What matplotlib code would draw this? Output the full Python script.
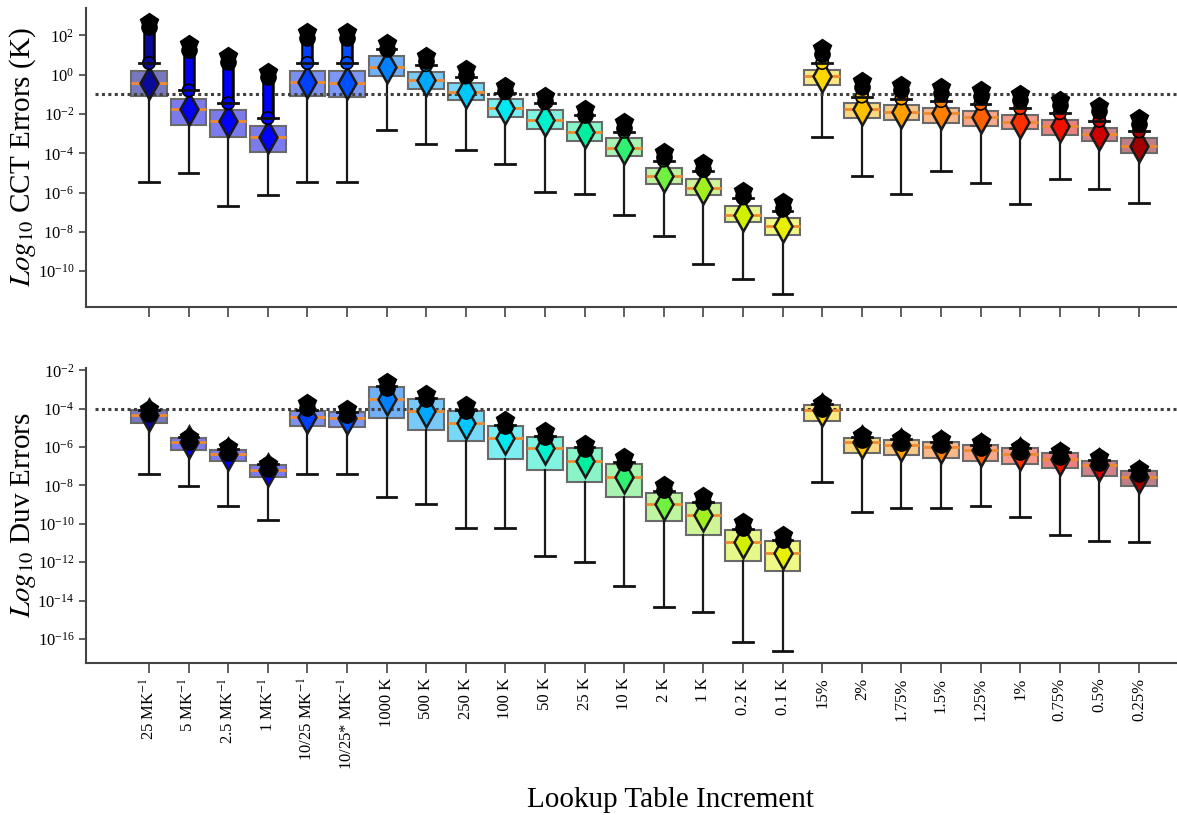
import numpy as np
import matplotlib
matplotlib.use('Agg')
import matplotlib.pyplot as plt
import matplotlib.transforms as mtransforms
from matplotlib.ticker import FixedLocator, NullLocator, LogFormatterMathtext

plt.rcParams['font.family'] = ['Liberation Serif', 'DejaVu Serif']
plt.rcParams['mathtext.fontset'] = 'stix'

labels = [r'25 MK$^{-1}$', r'5 MK$^{-1}$', r'2.5 MK$^{-1}$', r'1 MK$^{-1}$',
          r'10/25 MK$^{-1}$', r'10/25* MK$^{-1}$', '1000 K', '500 K', '250 K',
          '100 K', '50 K', '25 K', '10 K', '2 K', '1 K', '0.2 K', '0.1 K',
          '15%', '2%', '1.75%', '1.5%', '1.25%', '1%', '0.75%', '0.5%', '0.25%']

# CCT errors (log10 K)
cct_q1 = [-1.07, -2.55, -3.15, -3.91, -1.07, -1.14, -0.05, -0.73, -1.31, -2.13, -2.76, -3.37, -4.14,
          -5.58, -6.14, -7.52, -8.14, -0.53, -2.21, -2.30, -2.47, -2.60, -2.77, -3.06, -3.39, -4.00]
cct_med = [-0.44, -1.74, -2.37, -3.15, -0.36, -0.44, 0.41, -0.29, -0.90, -1.67, -2.28, -2.91, -3.73,
           -5.14, -5.75, -7.15, -7.69, -0.05, -1.74, -1.91, -1.97, -2.13, -2.40, -2.60, -3.00, -3.61]
cct_q3 = [0.17, -1.21, -1.82, -2.60, 0.17, 0.17, 0.94, 0.12, -0.43, -1.21, -1.82, -2.43, -3.20,
          -4.77, -5.31, -6.69, -7.32, 0.26, -1.45, -1.55, -1.69, -1.84, -2.06, -2.30, -2.69, -3.23]
cct_lo = [-5.46, -4.99, -6.69, -6.14, -5.46, -5.46, -2.83, -3.52, -3.83, -4.53, -5.99, -6.06, -7.15,
          -8.22, -9.62, -10.38, -11.15, -3.15, -5.14, -6.06, -4.92, -5.53, -6.60, -5.31, -5.84, -6.52]
cct_hi = [0.60, -0.80, -1.45, -2.21, 0.60, 0.60, 1.31, 0.49, -0.14, -0.94, -1.45, -2.06, -2.91,
          -4.37, -4.90, -6.30, -6.93, 0.60, -1.11, -1.21, -1.34, -1.48, -1.70, -1.96, -2.35, -2.89]
cct_max = [2.70, 1.55, 0.93, 0.16, 2.16, 2.16, 1.62, 0.97, 0.29, -0.56, -1.07, -1.75, -2.43,
           -3.92, -4.51, -5.91, -6.50, 1.36, -0.34, -0.51, -0.63, -0.80, -0.99, -1.28, -1.58, -2.21]

# Duv errors (log10)
duv_q1 = [-4.75, -6.17, -6.71, -7.57, -4.90, -4.97, -4.50, -5.13, -5.70, -6.63, -7.18, -7.81, -8.59,
          -9.86, -10.57, -11.91, -12.45, -4.64, -6.31, -6.40, -6.56, -6.70, -6.87, -7.10, -7.50, -8.05]
duv_med = [-4.35, -5.76, -6.38, -7.18, -4.43, -4.50, -3.50, -4.10, -4.75, -5.53, -6.07, -6.71, -7.57,
           -8.99, -9.55, -10.96, -11.50, -4.09, -5.76, -5.90, -6.00, -6.16, -6.37, -6.61, -6.94, -7.57]
duv_q3 = [-4.09, -5.51, -6.14, -6.92, -4.10, -4.19, -2.87, -3.50, -4.10, -4.90, -5.46, -6.07, -6.87,
          -8.37, -8.92, -10.33, -10.89, -3.81, -5.55, -5.62, -5.76, -5.91, -6.07, -6.31, -6.70, -7.27]
duv_lo = [-7.41, -8.03, -9.06, -9.79, -7.41, -7.41, -8.59, -8.99, -10.24, -10.24, -11.67, -11.97, -13.25,
          -14.33, -14.59, -16.16, -16.63, -7.81, -9.39, -9.15, -9.15, -9.06, -9.62, -10.56, -10.87, -10.94]
duv_hi = [-4.05, -5.49, -6.12, -6.90, -4.05, -4.15, -2.82, -3.45, -4.05, -4.85, -5.40, -6.02, -6.80,
          -8.30, -8.85, -10.25, -10.82, -3.78, -5.50, -5.58, -5.72, -5.87, -6.03, -6.27, -6.65, -7.22]
duv_max = [-4.00, -5.45, -6.00, -6.87, -3.70, -4.03, -2.61, -3.22, -3.83, -4.61, -5.18, -5.83, -6.52,
           -7.97, -8.56, -9.91, -10.56, -3.72, -5.36, -5.51, -5.60, -5.74, -5.97, -6.23, -6.52, -7.13]

cct_threshold = 0.1
duv_threshold = 1e-4

marker_colors = ['#0a0a9a', '#0000ee', '#0000ff', '#0000ff', '#0040ff', '#0050ff', '#0080ff',
                 '#00a8ff', '#00c8ff', '#00e8f0', '#00f0d0', '#00f0a0', '#30f070', '#70f040',
                 '#a0f020', '#d0f000', '#e8f000', '#ffd700', '#ffc000', '#ffa000', '#ff8000',
                 '#ff6000', '#ff3000', '#f01000', '#d00000', '#a00000']
face_colors = ['#7878c0', '#7b7bee', '#7b7bee', '#7b7bee', '#7c90f2', '#7c98f4', '#70b0f8',
               '#78c8f8', '#78d8f8', '#7aeef2', '#80f4e0', '#8af4c8', '#a8f4b0', '#bff5a0',
               '#d0f598', '#e6f88a', '#f2f888', '#fcea80', '#fad880', '#f8c888', '#f8b888',
               '#f8a888', '#f89888', '#ec8080', '#d48088', '#be8088']

pos = np.arange(len(labels))

fig = plt.figure(figsize=(11.77, 8.15), dpi=100)
L = 86 / 1177
ax1 = fig.add_axes([L, 1 - 307 / 815, 1 - L, (307 - 8) / 815])
ax2 = fig.add_axes([L, 1 - 663 / 815, 1 - L, (663 - 368) / 815])


def draw(ax, q1, med, q3, lo, hi, mx, thr, ylim, yticks, ylabel):
    stats = []
    for a, m, b, l, h in zip(q1, med, q3, lo, hi):
        stats.append(dict(med=10 ** m, q1=10 ** a, q3=10 ** b, whislo=10 ** l,
                          whishi=10 ** h, fliers=[]))
    bp = ax.bxp(stats, positions=pos, widths=0.9, capwidths=0.5, patch_artist=True,
                showfliers=False,
                boxprops=dict(edgecolor='#6a6a6a', linewidth=1.5),
                medianprops=dict(color='#f08a30', linewidth=2, zorder=3.8),
                whiskerprops=dict(color='#1a1a1a', linewidth=1.6),
                capprops=dict(color='#111111', linewidth=2, zorder=5))
    for patch, fc in zip(bp['boxes'], face_colors):
        patch.set_facecolor(fc)
        patch.set_zorder(2)
    ax.set_yscale('log')
    ax.axhline(thr, xmin=0.008, color='#404040', linestyle=(0, (1, 1.1)), linewidth=2.2,
               zorder=3.2)
    hi_v = 10 ** np.array(hi)
    mx_v = 10 ** np.array(mx)
    # outlier column
    c1 = ax.vlines(pos, hi_v, mx_v, colors='black', linewidth=9, zorder=4)
    c1.set_capstyle('butt')
    c2 = ax.vlines(pos, hi_v, mx_v, colors=marker_colors, linewidth=5.5, zorder=4.1)
    c2.set_capstyle('butt')
    ax.scatter(pos, hi_v, s=80, c=marker_colors, edgecolors='black', linewidths=1.2,
               zorder=4.5)
    # mean diamonds
    for x, m, c in zip(pos, med, marker_colors):
        ax.plot([x], [10 ** m], marker='d', linestyle='none', markersize=16, markerfacecolor=c,
                markeredgecolor='#1a1a1a', markeredgewidth=1.8, zorder=4.3)
    down = mtransforms.offset_copy(ax.transData, fig=fig, x=0, y=-4, units='points')
    ax.plot(pos, mx_v, 'o', ms=11, color='black', transform=down, zorder=6, linestyle='none')
    ax.plot(pos, mx_v, 'p', ms=13, color='black', zorder=6.1, linestyle='none')

    ax.set_xlim(-1.59, 25.96)
    ax.set_ylim(*ylim)
    ax.yaxis.set_major_locator(FixedLocator(yticks))
    ax.yaxis.set_minor_locator(NullLocator())
    ax.yaxis.set_major_formatter(LogFormatterMathtext())
    ax.set_xticks(pos)
    for s in ['top', 'right']:
        ax.spines[s].set_visible(False)
    for s in ['left', 'bottom']:
        ax.spines[s].set_color('#444444')
        ax.spines[s].set_linewidth(1.5)
    ax.tick_params(axis='x', length=7, width=1.2, color='#444444')
    ax.tick_params(axis='y', length=5, width=1.2, color='#444444', labelsize=12)
    ax.set_ylabel(ylabel, fontsize=21)
    ax.yaxis.set_label_coords(-0.044, 0.5)


draw(ax1, cct_q1, cct_med, cct_q3, cct_lo, cct_hi, cct_max, cct_threshold,
     (10 ** -11.83, 10 ** 3.4), [10.0 ** k for k in range(-10, 3, 2)],
     r'$\mathit{Log}_{10}$ CCT Errors (K)')
ax1.set_xticklabels([])

draw(ax2, duv_q1, duv_med, duv_q3, duv_lo, duv_hi, duv_max, duv_threshold,
     (10 ** -17.25, 10 ** -1.88), [10.0 ** k for k in range(-16, -1, 2)],
     r'$\mathit{Log}_{10}$ Duv Errors')
ax2.set_xticklabels(labels, rotation=90, fontsize=12)

fig.text(670 / 1177, 1 - 800 / 815, 'Lookup Table Increment', ha='center', va='center',
         fontsize=21)

fig.savefig('out.png', dpi=100)
